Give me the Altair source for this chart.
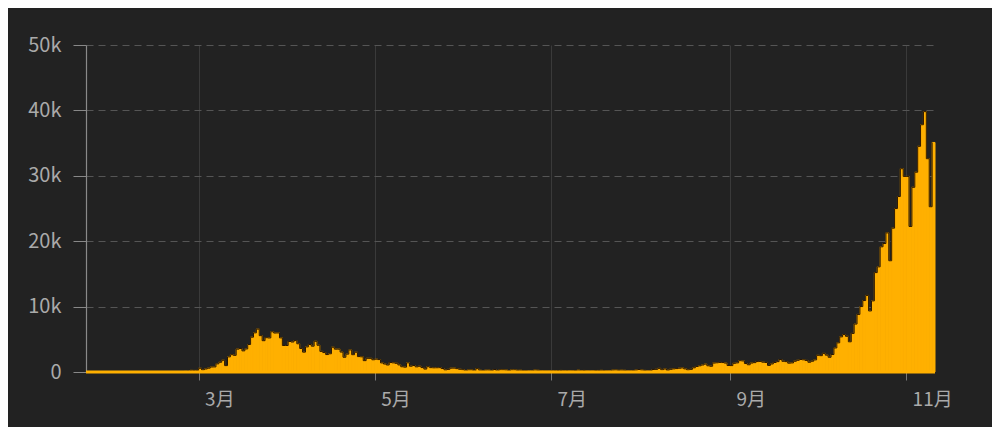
import altair as alt
import pandas as pd

# Daily new cases, 2020-01-22 .. 2020-11-10
jan_vals = [0, 0, 0, 0, 0, 0, 0, 0, 0, 2]
feb_vals = [0, 0, 0, 0, 0, 0, 1, 0, 0, 0,
            0, 0, 0, 0, 0, 0, 0, 0, 0, 0,
            17, 59, 76, 68, 93, 78, 250, 238, 240]
mar_vals = [573, 335, 466, 587, 769, 778, 1247, 1492, 1797, 977,
            2313, 2651, 2547, 3497, 3590, 3233, 3526, 4207, 5322, 5986,
            6557, 5560, 4789, 5249, 5210, 6153, 5959, 5974, 5217, 4050, 4053]
apr_vals = [4668, 4585, 4805, 4316, 3599, 3039, 3836, 4204, 3951, 4694,
            4092, 3153, 2972, 2667, 2786, 3786, 3493, 3491, 3047, 2256,
            2729, 3370, 2646, 3021, 2357, 2324, 1739, 2091, 2086, 1872]
may_vals = [1965, 1900, 1389, 1221, 1075, 1444, 1401, 1327, 1083, 802,
            744, 1402, 888, 992, 789, 875, 675, 451, 813, 665,
            642, 652, 669, 531, 300, 397, 584, 593, 516, 416, 355]
jun_vals = [178, 318, 321, 177, 518, 270, 197, 280, 283, 202,
            379, 163, 346, 338, 303, 210, 329, 333, 251, 262,
            224, 221, 113, 190, 296, 259, 175, 174, 126, 142]
jul_vals = [187, 201, 223, 235, 192, 208, 138, 193, 229, 276,
            188, 234, 169, 114, 162, 230, 233, 249, 219, 190,
            129, 282, 306, 252, 275, 255, 170, 181, 202, 288, 379]
aug_vals = [295, 239, 159, 190, 384, 402, 552, 347, 463, 259,
            412, 481, 523, 574, 629, 479, 320, 403, 642, 845,
            947, 1071, 1210, 953, 878, 1367, 1411, 1462, 1444, 1365, 996]
sep_vals = [978, 1326, 1397, 1733, 1695, 1297, 1108, 1370, 1434, 1597,
            1616, 1501, 1458, 1008, 1229, 1452, 1585, 1907, 1638, 1587,
            1350, 1392, 1640, 1786, 1912, 1869, 1766, 1494, 1648, 1851]
oct_vals = [2548, 2499, 2844, 2578, 2257, 2677, 3678, 4458, 5372, 5724,
            5456, 4619, 5901, 7332, 8804, 10010, 10925, 11705, 9338, 10874,
            15199, 16079, 19143, 19644, 21273, 17012, 21994, 24991, 26831, 31084, 29907]
nov_vals = [29905, 22253, 28244, 30550, 34505, 37809, 39811, 32616, 25271, 35098]

values = (jan_vals + feb_vals + mar_vals + apr_vals + may_vals + jun_vals +
          jul_vals + aug_vals + sep_vals + oct_vals + nov_vals)
start_date = "2020-01-22"
end_date = "2020-11-11"
dates = pd.date_range(start_date, periods=len(values), freq="D")

tick_dates = ["2020-03-01", "2020-05-01", "2020-07-01", "2020-09-01", "2020-11-01"]
y_ticks = [0, 10000, 20000, 30000, 40000, 50000]

df = pd.DataFrame({
    "date": dates.strftime("%Y-%m-%d"),
    "next": (dates + pd.Timedelta(days=1)).strftime("%Y-%m-%d"),
    "cases": values,
})
base_df = pd.DataFrame({"start": [start_date], "end": [end_date]})

FONT = "Noto Sans CJK SC"
x_scale = alt.Scale(domain=[start_date, end_date])
y_scale = alt.Scale(domain=[0, 50000], nice=False, zero=True)

x_enc = alt.X(
    "date:T",
    scale=x_scale,
    axis=alt.Axis(
        title=None,
        values=tick_dates,
        labelExpr="(month(datum.value) + 1) + '月'",
        grid=True,
        gridColor="#3a3a3a",
        gridWidth=1,
        domain=False,
        ticks=True,
        tickColor="#777777",
        tickSize=8,
        labelColor="#aaaaaa",
        labelFontSize=19,
        labelFont=FONT,
        labelAlign="left",
        labelOffset=6,
        labelPadding=10,
        labelFlush=False,
    ),
)

y_enc = alt.Y(
    "cases:Q",
    scale=y_scale,
    axis=alt.Axis(
        title=None,
        values=y_ticks,
        labelExpr="datum.value == 0 ? '0' : format(datum.value, '~s')",
        grid=True,
        gridColor="#555555",
        gridDash=[7, 5],
        gridWidth=1,
        domain=True,
        domainColor="#8a8a8a",
        domainWidth=1.2,
        ticks=True,
        tickColor="#888888",
        tickSize=13,
        labelColor="#aaaaaa",
        labelFontSize=20,
        labelFont=FONT,
        labelPadding=12,
    ),
)

bars = alt.Chart(df).mark_rect(
    color="#FFB000", stroke="#FFB000", strokeWidth=1.0, opacity=1
).encode(
    x=x_enc, x2="next:T", y=y_enc, y2=alt.Y2(datum=0)
)
outline = alt.Chart(df).mark_line(interpolate="step-after", color="#2a1600", strokeWidth=1).encode(
    x=alt.X("date:T", scale=x_scale), y=alt.Y("cases:Q", scale=y_scale)
)
baseline = alt.Chart(base_df).mark_rule(color="#FFB000", strokeWidth=3).encode(
    x=alt.X("start:T", scale=x_scale),
    x2="end:T",
    y=alt.Y(datum=0, scale=y_scale),
)

chart = (
    alt.layer(bars, outline, baseline)
    .properties(
        width=849,
        height=327,
        background="#222222",
        padding={"left": 78, "top": 37, "right": 57, "bottom": 55},
        autosize=alt.AutoSizeParams(type="none"),
    )
    .configure_view(stroke=None)
)

chart.save("out.html", embed_options={"renderer": "svg", "actions": False})
